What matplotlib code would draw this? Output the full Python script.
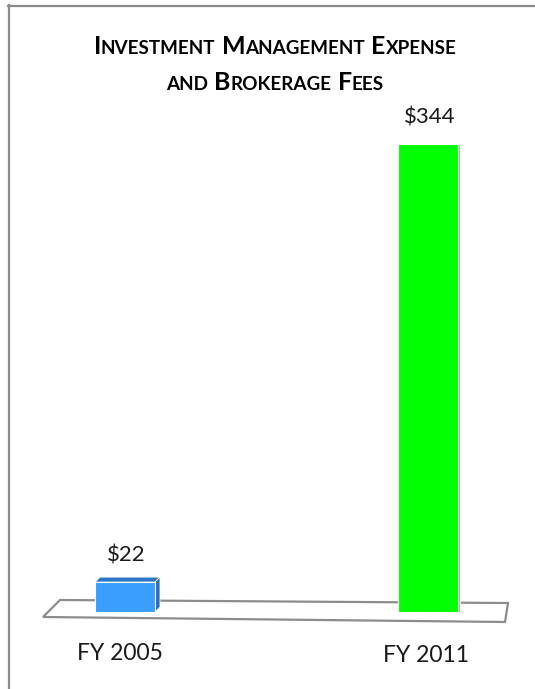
import matplotlib
matplotlib.use("Agg")
import matplotlib.pyplot as plt
from matplotlib.patches import Polygon
from matplotlib.lines import Line2D
from matplotlib.offsetbox import TextArea, HPacker, AnnotationBbox

# ---- data ----
categories = ["FY 2005", "FY 2011"]
values = [22, 344]
value_labels = ["$22", "$344"]
bar_colors = ["#3A9EFF", "#00FF00"]
top_colors = ["#2C74C6", "#00FF00"]
side_colors = ["#2A6CBA", "#7FD87F"]
title_lines = ["Investment Management Expense", "and Brokerage Fees"]

W, H = 535, 689
FONT = "Lato"
fig = plt.figure(figsize=(W / 100, H / 100), dpi=100)
fig.patch.set_facecolor("white")

# axes: y in value units, baseline at 612 px from top, 1.36 px per unit
base_px = 612
ppu = 1.36
x0_px, step_px = 125, 303
ax = fig.add_axes([0, 0, 1, 1])
ax.set_ylim(-(H - base_px) / ppu, base_px / ppu)
ax.set_xlim(-x0_px / step_px, (W - x0_px) / step_px)
ax.axis("off")


def fig_xy(pts):
    return [(x / W, 1 - y / H) for x, y in pts]


# frame lines on the left and top
fig.add_artist(Line2D([8.5 / W, 8.5 / W], [0, 1 - 5 / H], color="#8a8a8a",
                      lw=1.6, transform=fig.transFigure))
fig.add_artist(Line2D([8 / W, 1], [1 - 5.5 / H, 1 - 5.5 / H], color="#8a8a8a",
                      lw=1.6, transform=fig.transFigure))

# floor slab, beneath the bars
floor = Polygon(fig_xy([(60, 600), (508, 603), (505, 622), (43, 617)]),
                closed=True, facecolor="white", edgecolor="#8c8c8c", lw=1.6,
                transform=fig.transFigure, zorder=1)
ax.add_patch(floor)

# bars
xpos = list(range(len(categories)))
width = 60 / step_px
depth_x = [5 / step_px, 2 / step_px]
depth_y = [5 / ppu, 0]
bars = ax.bar(xpos, values, width=width, color=bar_colors, edgecolor="white",
              linewidth=0.8, zorder=3)

for i, (x, v) in enumerate(zip(xpos, values)):
    xl, xr = x - width / 2, x + width / 2
    dx, dy = depth_x[i], depth_y[i]
    if dy > 0:
        ax.add_patch(Polygon([(xl, v), (xl + dx, v + dy), (xr + dx, v + dy), (xr, v)],
                             closed=True, facecolor=top_colors[i], edgecolor="white",
                             lw=0.6, zorder=2.9))
    ax.add_patch(Polygon([(xr, 0), (xr, v), (xr + dx, v + dy), (xr + dx, dy)],
                         closed=True, facecolor=side_colors[i], edgecolor="white",
                         lw=0.6, zorder=2.9))
    ax.annotate(value_labels[i], xy=(x, v), xytext=(1, 27 * 0.72),
                textcoords="offset points", ha="center", va="center",
                fontsize=16, family=FONT, color="#1a1a1a", zorder=4)

# category labels under the floor
cat_y_px = [653, 655]
cat_dx = [-5, -2]
for i, (x, lab) in enumerate(zip(xpos, categories)):
    ax.text(x + cat_dx[i] / step_px, -(cat_y_px[i] - base_px) / ppu, lab,
            ha="center", va="center", fontsize=16.5, family=FONT, color="#1a1a1a")


# title in small caps: capitalised letters large, lowercase letters small
def small_caps(text, big=18, small=13.6):
    words = []
    for w in text.split():
        parts = []
        run, run_big = "", None
        for ch in w:
            is_big = ch.isupper()
            if run and is_big != run_big:
                parts.append((run, run_big))
                run = ""
            run += ch
            run_big = is_big
        parts.append((run, run_big))
        areas = [TextArea(s.upper(), textprops=dict(fontsize=big if b else small,
                                                     fontweight="bold", family=FONT,
                                                     color="black"))
                 for s, b in parts]
        words.append(HPacker(children=areas, sep=0, pad=0, align="baseline"))
    return HPacker(children=words, sep=4.5, pad=0, align="baseline")


for line, y_px in zip(title_lines, [46, 83]):
    ab = AnnotationBbox(small_caps(line), (275, H - y_px), xycoords="figure pixels",
                        box_alignment=(0.5, 0.5), frameon=False, pad=0)
    fig.add_artist(ab)

fig.savefig("out.png", dpi=100, facecolor="white")
